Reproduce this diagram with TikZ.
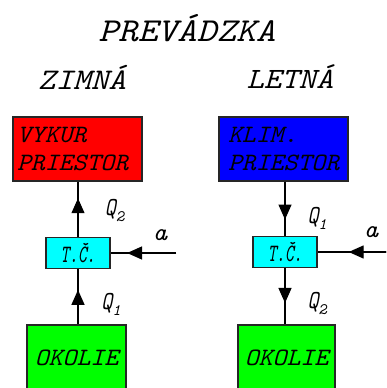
\documentclass[tikz,border=0pt]{standalone}
\usepackage{fontspec}
\newfontfamily\cour{Latin Modern Mono}[FakeStretch=1.12]
\newfontfamily\courbox{Latin Modern Mono}[FakeStretch=1.06]
\usetikzlibrary{arrows.meta,calc}

\definecolor{heatred}{RGB}{255,0,0}
\definecolor{coolblue}{RGB}{0,0,255}
\definecolor{pumpcyan}{RGB}{0,255,255}
\definecolor{envgreen}{RGB}{0,255,0}

% heat-flow quantity with a lowered index
\newcommand{\qflow}[1]{\scalebox{0.72}[1]{Q}\raisebox{-6pt}{\fontsize{16}{16}\selectfont\scalebox{0.85}[1]{#1}}}

% connector from #2 to #3 with a solid head whose tip sits at fraction #1
\newcommand{\flowline}[3]{%
  \draw[flow] (#2) -- (#3);
  \draw[flow, -{Triangle[length=15pt,width=13pt]}] (#2) -- ($(#2)!#1!(#3)$);}

\tikzset{
  txt/.style={font=\cour\itshape, inner sep=0pt},
  blockbox/.style={draw=black!85, line width=1.5pt, inner sep=0pt,
    font=\courbox\itshape\fontsize{25}{28}\selectfont},
  pumpbox/.style={blockbox, fill=pumpcyan, minimum width=64, minimum height=31},
  flow/.style={line width=1.3pt},
  qlabel/.style={txt, font=\cour\itshape\fontsize{26}{26}\selectfont},
  alabel/.style={txt, font=\cour\itshape\fontsize{25}{25}\selectfont},
}

\begin{document}
\begin{tikzpicture}[x=1pt,y=1pt]
\useasboundingbox (0,0) rectangle (386,388);
\fill[white] (0,0) rectangle (386,388);
\begin{scope}
\clip (0,0) rectangle (386,388);

% headings
\node[txt, font=\cour\itshape\fontsize{33.5}{33.5}\selectfont] (title) at (187,360) {PREVÁDZKA};
\node[txt, font=\cour\itshape\fontsize{30}{30}\selectfont] (winter) at (82,311) {ZIMNÁ};
\node[txt, font=\cour\itshape\fontsize{29.5}{29.5}\selectfont] (summer) at (290,311) {LETNÁ};

% winter operation
\node[blockbox, fill=heatred, minimum width=129, minimum height=64,
      text width=121, align=left] (heat) at (77.5,239) {VYKUR\\PRIESTOR};
\node[pumpbox] (tcL) at (78,135) {\fontsize{25}{25}\selectfont\scalebox{0.62}[1]{T.Č.}};
\node[blockbox, fill=envgreen, minimum width=99, minimum height=65] (envL) at (76.5,30.5) {OKOLIE};
\coordinate (aL) at (176,135);
\coordinate (tcLtop) at (tcL.north);
\coordinate (heatbot) at (tcL.north |- heat.south);
\coordinate (tcLbot) at (tcL.south);
\coordinate (envLtop) at (tcL.south |- envL.north);

\flowline{0.70}{tcLtop}{heatbot}
\flowline{0.625}{envLtop}{tcLbot}
\flowline{0.75}{aL}{tcL.east}

\node[qlabel] (q2L) at (114.5,177) {\qflow{2}};
\node[qlabel] (q1L) at (111,84) {\qflow{1}};
\node[alabel] (aLlab) at (160,153) {a};

% summer operation
\node[blockbox, fill=coolblue, minimum width=129, minimum height=64,
      text width=111, align=left] (cool) at (283.5,239) {KLIM.\\PRIESTOR};
\node[pumpbox] (tcR) at (285,136) {\fontsize{25}{25}\selectfont\scalebox{0.62}[1]{T.Č.}};
\node[blockbox, fill=envgreen, minimum width=97, minimum height=65] (envR) at (286.5,30.5) {OKOLIE};
\coordinate (aR) at (388,136);
\coordinate (coolbot) at (tcR.north |- cool.south);
\coordinate (tcRtop) at (tcR.north);
\coordinate (tcRbot) at (tcR.south);
\coordinate (envRtop) at (tcR.south |- envR.north);

\flowline{0.70}{coolbot}{tcRtop}
\flowline{0.62}{tcRbot}{envRtop}
\flowline{0.56}{aR}{tcR.east}

\node[qlabel] (q1R) at (317,170) {\qflow{1}};
\node[qlabel] (q2R) at (317,84) {\qflow{2}};
\node[alabel] (aRlab) at (371,156) {a};
\end{scope}
\end{tikzpicture}
\end{document}
